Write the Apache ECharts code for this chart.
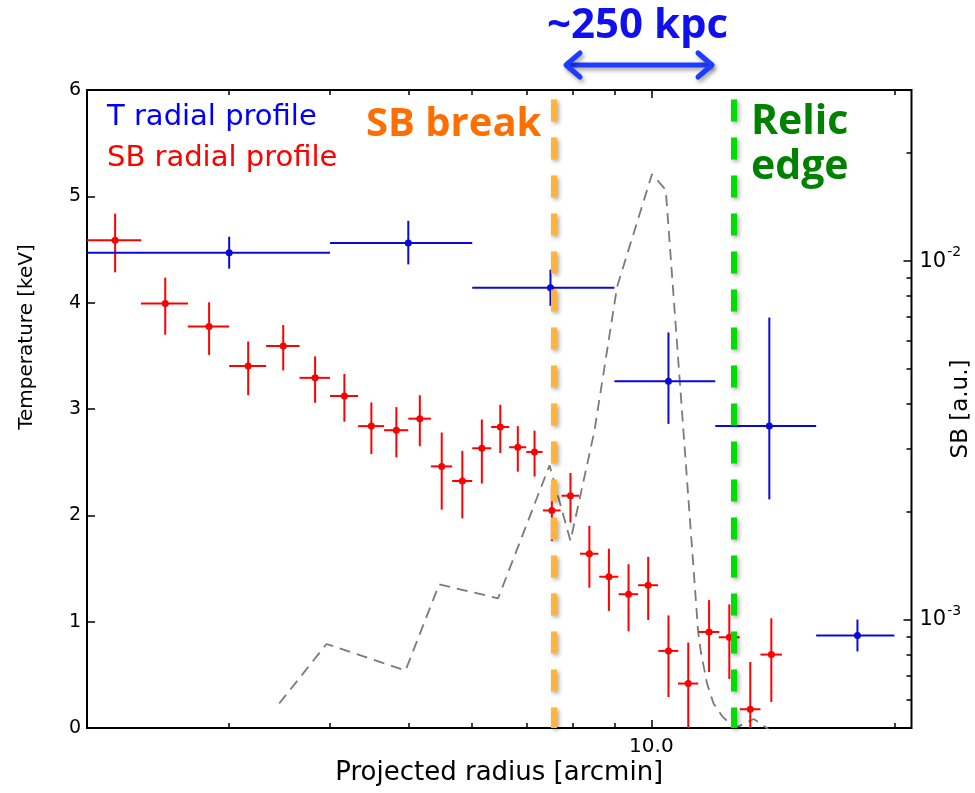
<!DOCTYPE html>
<html><head><meta charset="utf-8">
<script src="https://cdn.jsdelivr.net/npm/echarts@6/dist/echarts.min.js"></script>
<style>html,body{margin:0;padding:0;background:#fff}#c{width:975px;height:793px}</style>
</head><body><div id="c"></div>
<script>
// ---- Temperature profile (left axis, keV) ----
const tempX = [3, 5, 7.5, 10.5, 14, 18];
const tempXLow = [2, 4, 6, 9, 12, 16];
const tempXHigh = [4, 6, 9, 12, 16, 20];
const tempY = [4.47, 4.56, 4.14, 3.26, 2.84, 0.87];
const tempErrLow = [0.15, 0.20, 0.17, 0.40, 0.69, 0.15];
const tempErrHigh = [0.15, 0.21, 0.17, 0.46, 1.02, 0.15];

// ---- Surface brightness profile (right axis, a.u.) ----
const sbX = [2.167, 2.5, 2.833, 3.167, 3.5, 3.833, 4.167, 4.5, 4.833, 5.167, 5.5, 5.833, 6.167, 6.5,
             6.833, 7.167, 7.53, 7.94, 8.38, 8.86, 9.37, 9.91, 10.5, 11.11, 11.79, 12.49, 13.26, 14.08];
const sbXErr = [0.167, 0.167, 0.167, 0.167, 0.167, 0.167, 0.167, 0.167, 0.167, 0.167, 0.167, 0.167, 0.167, 0.167,
                0.167, 0.167, 0.19, 0.20, 0.22, 0.24, 0.26, 0.28, 0.30, 0.32, 0.35, 0.37, 0.39, 0.43];
const sbY = [0.01144, 0.00762, 0.00658, 0.00510, 0.00580, 0.00473, 0.00421, 0.00347, 0.00338, 0.00364,
             0.00268, 0.00244, 0.00301, 0.00345, 0.00303, 0.00294, 0.00202, 0.00222, 0.00153, 0.00132,
             0.00118, 0.00125, 0.00082, 0.000665, 0.000926, 0.000895, 0.000564, 0.000801];
const sbErr = [0.00213, 0.00138, 0.00110, 0.00087, 0.00084, 0.00070, 0.00064, 0.00057, 0.00054, 0.00059,
               0.00065, 0.00052, 0.00061, 0.00053, 0.00044, 0.00043, 0.00036, 0.00035, 0.00030, 0.00026,
               0.00025, 0.00025, 0.00021, 0.00020, 0.00021, 0.00021, 0.00020, 0.00021];

// ---- grey dashed profile (left axis units) ----
const greyX = [3.46, 3.96, 4.96, 5.46, 6.46, 7.48, 7.94, 8.5, 9.07, 10.02, 10.42, 11.43, 11.52, 11.72, 11.94, 12.24, 12.56, 12.78, 13.39, 13.96];
const greyY = [0.23, 0.79, 0.54, 1.35, 1.22, 2.47, 1.76, 2.79, 4.15, 5.21, 5.06, 0.90, 0.71, 0.42, 0.23, 0.11, 0.03, 0.01, 0.085, -0.01];

// ---- vertical markers ----
const sbBreakX = 7.57;
const relicEdgeX = 12.66;
const markerTop = 5.91;

// ---- ticks ----
const xMinorTicks = [2, 3, 4, 5, 6, 7, 8, 9, 20];
const xMajorTicks = [10];
const xTickLabels = [10];
const sbMinorTicks = [6e-4, 7e-4, 8e-4, 9e-4, 2e-3, 3e-3, 4e-3, 5e-3, 6e-3, 7e-3, 8e-3, 9e-3, 2e-2, 3e-2];
const sbMajorTicks = [1e-3, 1e-2];

const X_MIN = 2, X_MAX = 21, T_MIN = 0, T_MAX = 6, SB_MIN = 5e-4, SB_MAX = 3e-2;

const chart = echarts.init(document.getElementById('c'), null, {renderer: 'canvas'});

function errRender(params, api) {
  const x = api.value(0), y = api.value(1);
  const c = api.coord([x, y]);
  const pl = api.coord([api.value(2), y]), ph = api.coord([api.value(3), y]);
  const pb = api.coord([x, api.value(4)]), pt = api.coord([x, api.value(5)]);
  const color = api.visual('color');
  return {type: 'group', children: [
    {type: 'line', shape: {x1: pl[0], y1: pl[1], x2: ph[0], y2: ph[1]}, style: {stroke: color, lineWidth: 2}},
    {type: 'line', shape: {x1: pb[0], y1: pb[1], x2: pt[0], y2: pt[1]}, style: {stroke: color, lineWidth: 2}},
    {type: 'circle', shape: {cx: c[0], cy: c[1], r: 3.5}, style: {fill: color}}
  ]};
}

const tempData = tempX.map((x, i) => [x, tempY[i], tempXLow[i], tempXHigh[i], tempY[i] - tempErrLow[i], tempY[i] + tempErrHigh[i]]);
const sbData = sbX.map((x, i) => [x, sbY[i], x - sbXErr[i], x + sbXErr[i], sbY[i] - sbErr[i], sbY[i] + sbErr[i]]);
const greyData = greyX.map((x, i) => [x, greyY[i]]);

function xAxisDef(pos, ticks, len, labels) {
  return {
    type: 'log', logBase: 10, min: X_MIN, max: X_MAX, position: pos, gridIndex: 0,
    axisLine: {show: false}, splitLine: {show: false},
    axisTick: {show: true, inside: true, length: len, customValues: ticks, lineStyle: {color: '#000', width: 1.5}},
    axisLabel: labels ? {show: true, customValues: labels, margin: 9, fontSize: 20, fontFamily: 'DejaVu Sans', color: '#000',
      formatter: v => (Math.abs(v - 10) < 1e-6 ? '10.0' : String(v))} : {show: false},
    name: labels ? 'Projected radius [arcmin]' : '', nameLocation: 'middle', nameGap: 32, nameMoveOverlap: false,
    nameTextStyle: {fontSize: 26, fontFamily: 'DejaVu Sans', color: '#000'}
  };
}

const option = {
  animation: false,
  backgroundColor: '#fff',
  grid: {left: 87, right: 63.5, top: 90, bottom: 65, show: true, borderColor: '#000', borderWidth: 2,
         backgroundColor: 'transparent', containLabel: false, outerBoundsMode: 'none'},
  xAxis: [
    xAxisDef('bottom', xMinorTicks, 5, xTickLabels),
    xAxisDef('top', xMinorTicks, 5, null),
    xAxisDef('bottom', xMajorTicks, 8, null),
    xAxisDef('top', xMajorTicks, 8, null)
  ],
  yAxis: [
    {type: 'value', min: T_MIN, max: T_MAX, interval: 1, position: 'left',
     axisLine: {show: false}, splitLine: {show: false},
     axisTick: {show: true, inside: true, length: 8, lineStyle: {color: '#000', width: 1.5}},
     axisLabel: {fontSize: 19, fontFamily: 'DejaVu Sans', color: '#000', margin: 6},
     name: 'Temperature [keV]', nameLocation: 'middle', nameGap: 50, nameRotate: 90, nameMoveOverlap: false,
     nameTextStyle: {fontSize: 20, fontFamily: 'DejaVu Sans', color: '#000', padding: [0, 0, 0, 144]}},
    {type: 'log', logBase: 10, min: SB_MIN, max: SB_MAX, position: 'right',
     axisLine: {show: false}, splitLine: {show: false},
     axisTick: {show: true, inside: true, length: 5, customValues: sbMinorTicks, lineStyle: {color: '#000', width: 1.5}},
     axisLabel: {show: true, customValues: sbMajorTicks, margin: 8, color: '#000',
       formatter: v => '{b|10}{s|-' + Math.abs(Math.round(Math.log10(v))) + '}',
       rich: {b: {fontSize: 21, fontFamily: 'DejaVu Sans', color: '#000'},
              s: {fontSize: 14, fontFamily: 'DejaVu Sans', color: '#000', padding: [0, 0, 18, 1]}}},
     name: 'SB [a.u.]', nameLocation: 'middle', nameGap: 38, nameRotate: 90, nameMoveOverlap: false,
     nameTextStyle: {fontSize: 23, fontFamily: 'DejaVu Sans', color: '#000'}},
    {type: 'log', logBase: 10, min: SB_MIN, max: SB_MAX, position: 'right',
     axisLine: {show: false}, splitLine: {show: false},
     axisTick: {show: true, inside: true, length: 8, customValues: sbMajorTicks, lineStyle: {color: '#000', width: 1.5}},
     axisLabel: {show: false}}
  ],
  series: [
    {type: 'line', name: 'grey profile', xAxisIndex: 0, yAxisIndex: 0, data: greyData, symbol: 'none', z: 1,
     lineStyle: {color: '#7a7a7a', width: 1.8, type: [11, 7]}, clip: true, silent: true},
    {type: 'custom', name: 'SB radial profile', xAxisIndex: 0, yAxisIndex: 1, data: sbData, renderItem: errRender,
     encode: {x: 0, y: 1}, itemStyle: {color: '#ff0000'}, clip: true, z: 3, silent: true},
    {type: 'custom', name: 'T radial profile', xAxisIndex: 0, yAxisIndex: 0, data: tempData, renderItem: errRender,
     encode: {x: 0, y: 1}, itemStyle: {color: '#0a0ad8'}, clip: true, z: 4, silent: true},
    {type: 'line', name: 'markers', xAxisIndex: 0, yAxisIndex: 0, data: [], z: 5, silent: true,
     markLine: {silent: true, symbol: ['none', 'none'], label: {show: false}, animation: false, z: 6,
       data: [
         [{coord: [sbBreakX, markerTop], lineStyle: {color: '#ffb43c', width: 6, type: [22, 16], shadowBlur: 4, shadowColor: 'rgba(0,0,0,0.35)', shadowOffsetX: 2, shadowOffsetY: 2}},
          {coord: [sbBreakX, T_MIN]}],
         [{coord: [relicEdgeX, markerTop], lineStyle: {color: '#00dd00', width: 6, type: [22, 16], shadowBlur: 4, shadowColor: 'rgba(0,0,0,0.35)', shadowOffsetX: 2, shadowOffsetY: 2}},
          {coord: [relicEdgeX, T_MIN]}]
       ]}}
  ],
  graphic: [
    {type: 'text', x: 107, y: 117, z: 10, style: {text: 'T radial profile', fill: '#0000ff', font: '29px "DejaVu Sans"', align: 'left', verticalAlign: 'middle', textAlign: 'left', textVerticalAlign: 'middle'}},
    {type: 'text', x: 107, y: 158, z: 10, style: {text: 'SB radial profile', fill: '#ff0000', font: '29px "DejaVu Sans"', align: 'left', verticalAlign: 'middle', textAlign: 'left', textVerticalAlign: 'middle'}},
    {type: 'text', x: 366, y: 125, z: 10, style: {text: 'SB break', fill: '#ff6e00', font: 'bold 40px "Open Sans"', align: 'left', verticalAlign: 'middle', textAlign: 'left', textVerticalAlign: 'middle'}},
    {type: 'text', x: 751, y: 122, z: 10, style: {text: 'Relic', fill: '#008200', font: 'bold 41px "Open Sans"', align: 'left', verticalAlign: 'middle', textAlign: 'left', textVerticalAlign: 'middle'}},
    {type: 'text', x: 751, y: 167, z: 10, style: {text: 'edge', fill: '#008200', font: 'bold 41px "Open Sans"', align: 'left', verticalAlign: 'middle', textAlign: 'left', textVerticalAlign: 'middle'}},
    {type: 'text', x: 547, y: 26, z: 10, style: {text: '~250 kpc', fill: '#1010ee', font: 'bold 42px "Open Sans"', align: 'left', verticalAlign: 'middle', textAlign: 'left', textVerticalAlign: 'middle'}},
    {type: 'line', z: 10, shape: {x1: 568, y1: 65, x2: 710, y2: 65},
     style: {stroke: '#1e3cff', lineWidth: 5, lineCap: 'round', shadowBlur: 4, shadowColor: 'rgba(0,0,0,0.35)', shadowOffsetX: 2, shadowOffsetY: 3}},
    {type: 'polyline', z: 10, shape: {points: [[580, 53], [566, 65], [580, 77]]},
     style: {stroke: '#1e3cff', fill: null, lineWidth: 5, lineCap: 'round', lineJoin: 'round', shadowBlur: 4, shadowColor: 'rgba(0,0,0,0.35)', shadowOffsetX: 2, shadowOffsetY: 3}},
    {type: 'polyline', z: 10, shape: {points: [[698, 53], [712, 65], [698, 77]]},
     style: {stroke: '#1e3cff', fill: null, lineWidth: 5, lineCap: 'round', lineJoin: 'round', shadowBlur: 4, shadowColor: 'rgba(0,0,0,0.35)', shadowOffsetX: 2, shadowOffsetY: 3}}
  ]
};
chart.setOption(option);
</script></body></html>
